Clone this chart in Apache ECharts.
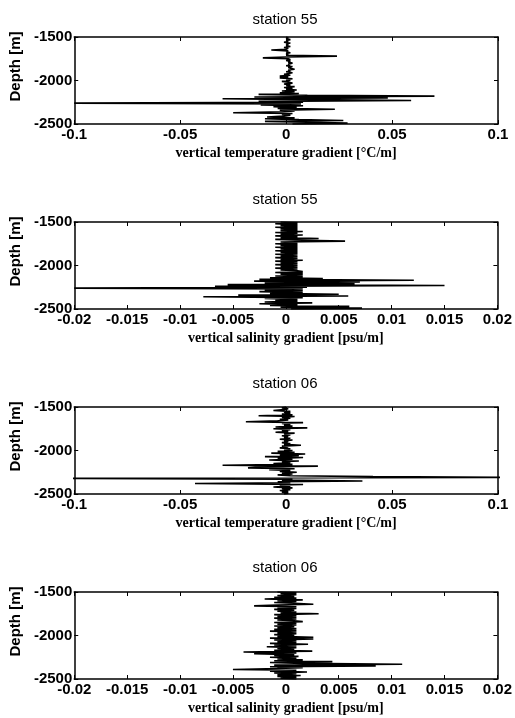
<!DOCTYPE html>
<html>
<head>
<meta charset="utf-8">
<script src="https://cdn.jsdelivr.net/npm/echarts@6/dist/echarts.min.js"></script>
<style>
html,body{margin:0;padding:0;background:#fff;}
#chart{width:515px;height:718px;}
</style>
</head>
<body>
<div id="chart"></div>
<script>
// Depth levels (m)
const depth = [
-1500,-1510,-1520,-1530,-1540,-1550,-1560,-1570,-1580,-1590,
-1600,-1610,-1620,-1630,-1640,-1650,-1660,-1670,-1680,-1690,
-1700,-1710,-1720,-1730,-1740,-1750,-1760,-1770,-1780,-1790,
-1800,-1810,-1820,-1830,-1840,-1850,-1860,-1870,-1880,-1890,
-1900,-1910,-1920,-1930,-1940,-1950,-1960,-1970,-1980,-1990,
-2000,-2010,-2020,-2030,-2040,-2050,-2060,-2070,-2080,-2090,
-2100,-2110,-2120,-2130,-2140,-2150,-2160,-2170,-2180,-2190,
-2200,-2210,-2220,-2230,-2240,-2250,-2260,-2270,-2280,-2290,
-2300,-2310,-2320,-2330,-2340,-2350,-2360,-2370,-2380,-2390,
-2400,-2410,-2420,-2430,-2440,-2450,-2460,-2470,-2480,-2490,
-2500];

// Station 55, vertical temperature gradient (°C/m)
const temp55 = [
0.000,0.001,0.000,0.002,0.000,0.001,-0.001,0.002,0.000,0.001,
0.000,0.002,-0.001,0.001,0.000,-0.007,0.001,0.000,0.002,0.000,
0.001,0.000,0.024,0.000,-0.011,0.001,0.002,0.000,0.002,0.001,
0.003,0.001,0.002,0.000,0.003,0.001,0.002,0.004,0.001,0.002,
0.000,0.003,0.001,-0.001,0.002,-0.003,0.001,-0.003,0.003,0.000,
0.002,-0.002,0.001,0.003,-0.001,0.002,0.000,0.004,-0.001,0.003,
0.000,0.005,-0.002,0.004,-0.003,0.006,-0.013,0.010,0.070,-0.015,
0.048,-0.030,0.012,0.059,-0.013,0.008,-0.100,0.007,-0.012,0.008,
-0.006,0.005,-0.004,0.023,-0.003,0.004,-0.002,-0.025,0.003,-0.002,
0.002,-0.001,-0.009,0.004,-0.010,0.006,0.027,-0.010,0.010,0.029,
0.003];

// Station 55, vertical salinity gradient (psu/m)
const sal55 = [
-0.0005,0.0011,-0.0010,0.0011,-0.0005,0.0011,-0.0010,0.0011,-0.0005,0.0011,
-0.0005,0.0016,-0.0010,0.0011,-0.0005,0.0016,-0.0010,0.0011,-0.0005,0.0031,
-0.0010,0.0016,0.0056,-0.0005,0.0011,-0.0010,0.0011,-0.0005,0.0011,-0.0010,
0.0011,-0.0005,0.0011,-0.0010,0.0011,-0.0005,0.0011,-0.0010,0.0011,-0.0005,
0.0011,-0.0010,0.0011,-0.0005,0.0016,-0.0010,0.0011,-0.0005,0.0011,-0.0010,
0.0011,-0.0005,0.0011,-0.0010,0.0011,-0.0005,0.0011,0.0016,-0.0010,0.0016,
-0.0005,0.0016,-0.0010,0.0016,-0.0015,0.0035,-0.0025,0.0121,-0.0030,0.0070,
-0.0020,0.0065,-0.0055,0.0150,-0.0067,0.0020,-0.0200,0.0016,-0.0020,0.0016,
-0.0025,0.0016,-0.0015,0.0050,-0.0045,0.0059,-0.0078,0.0016,-0.0020,0.0011,
-0.0010,0.0011,-0.0020,0.0025,-0.0025,0.0011,-0.0015,0.0060,-0.0005,0.0072,
0.0005];

// Station 06, vertical temperature gradient (°C/m)
const temp06 = [
0.000,-0.002,0.001,-0.001,-0.006,0.002,-0.001,0.002,-0.002,0.003,
-0.013,0.004,-0.002,0.002,-0.003,0.001,-0.004,-0.019,0.008,-0.002,
0.002,-0.001,0.003,-0.005,0.010,-0.006,0.002,-0.002,0.001,-0.005,
0.004,-0.001,0.002,-0.002,0.001,-0.001,0.002,-0.003,0.003,-0.001,
0.001,-0.002,0.002,-0.001,0.007,-0.002,0.001,-0.003,0.002,-0.001,
0.003,-0.004,0.004,-0.007,0.009,-0.003,0.006,-0.010,0.008,-0.004,
0.003,-0.008,0.006,-0.002,0.002,-0.006,0.003,-0.030,0.015,-0.013,
-0.018,0.004,-0.008,0.002,-0.003,0.005,-0.002,0.003,-0.004,0.002,
0.041,0.120,-0.120,0.003,-0.002,0.036,-0.004,0.002,-0.043,0.008,
-0.003,0.002,-0.006,0.003,-0.002,0.002,-0.003,0.001,-0.002,0.001,
-0.001];

// Station 06, vertical salinity gradient (psu/m)
const sal06 = [
-0.0008,0.0010,-0.0005,0.0010,-0.0008,0.0008,-0.0011,0.0010,-0.0020,0.0016,
-0.0008,0.0010,-0.0011,0.0008,0.0026,-0.0008,-0.0030,0.0010,-0.0008,0.0010,
-0.0011,0.0008,-0.0008,0.0010,-0.0005,0.0031,-0.0011,0.0010,-0.0008,0.0010,
-0.0011,0.0010,-0.0008,0.0008,0.0016,-0.0011,0.0010,-0.0008,0.0010,-0.0011,
0.0008,-0.0008,0.0010,-0.0011,0.0010,-0.0015,0.0010,-0.0008,0.0010,-0.0011,
0.0008,-0.0008,0.0026,-0.0015,0.0026,-0.0011,0.0010,-0.0008,0.0010,-0.0015,
0.0021,-0.0011,0.0010,-0.0018,0.0010,-0.0008,0.0008,-0.0011,0.0025,-0.0040,
0.0010,-0.0030,0.0008,-0.0011,0.0012,-0.0015,0.0010,-0.0008,0.0016,-0.0011,
0.0044,-0.0015,0.0016,0.0110,-0.0011,0.0085,-0.0015,0.0016,-0.0008,-0.0050,
0.0010,-0.0015,0.0020,-0.0011,0.0010,-0.0008,0.0014,-0.0008,0.0010,-0.0005,
0.0010];

const titles = ['station 55', 'station 55', 'station 06', 'station 06'];
const xNames = [
  'vertical temperature gradient [°C/m]',
  'vertical salinity gradient [psu/m]',
  'vertical temperature gradient [°C/m]',
  'vertical salinity gradient [psu/m]'
];
const xRanges = [[-0.1, 0.1, 0.05], [-0.02, 0.02, 0.005], [-0.1, 0.1, 0.05], [-0.02, 0.02, 0.005]];
const yRange = [-2500, -1500, 500];
const profiles = [temp55, sal55, temp06, sal06];

const gridTops = [37, 222, 407, 592];
const titleTops = [12, 192, 376, 560];
const GL = 72, GW = 426, GH = 87;

const tickFont = {fontFamily: 'Liberation Sans, Arial, sans-serif', fontSize: 15, fontWeight: 'bold', color: '#000'};
const lineStyle = {color: '#000', width: 1.5};
const plain = v => String(+v.toFixed(6));

const option = {
  backgroundColor: '#fff',
  animation: false,
  title: [], grid: [], xAxis: [], yAxis: [], series: []
};

for (let p = 0; p < 4; p++) {
  option.title.push({
    text: titles[p], left: GL + GW / 2, top: titleTops[p], textAlign: 'center', padding: 0,
    textStyle: {fontFamily: 'Liberation Sans, Arial, sans-serif', fontSize: 15, fontWeight: 'normal', color: '#000'}
  });
  option.grid.push({left: GL, top: gridTops[p], width: GW, height: GH, containLabel: false});
  const [xmin, xmax, xint] = xRanges[p];
  option.xAxis.push({
    type: 'value', gridIndex: p, min: xmin, max: xmax, interval: xint, position: 'bottom',
    name: xNames[p], nameLocation: 'middle', nameGap: 22,
    nameTextStyle: {fontFamily: 'Liberation Serif, Times New Roman, serif', fontSize: 14, fontWeight: 'bold', color: '#000'},
    axisLine: {show: true, onZero: false, lineStyle: lineStyle},
    axisTick: {show: true, inside: true, length: 4, lineStyle: {color: '#000', width: 1}},
    axisLabel: Object.assign({margin: 3, showMinLabel: true, showMaxLabel: true, formatter: plain}, tickFont),
    splitLine: {show: false}
  });
  option.xAxis.push({
    type: 'value', gridIndex: p, min: xmin, max: xmax, interval: xint, position: 'top',
    axisLine: {show: true, onZero: false, lineStyle: lineStyle},
    axisTick: {show: true, inside: true, length: 4, lineStyle: {color: '#000', width: 1}},
    axisLabel: {show: false}, splitLine: {show: false}
  });
  option.yAxis.push({
    type: 'value', gridIndex: p, min: yRange[0], max: yRange[1], interval: yRange[2], position: 'left',
    name: 'Depth [m]', nameLocation: 'middle', nameGap: 47, nameRotate: 90,
    nameTextStyle: {fontFamily: 'Liberation Sans, Arial, sans-serif', fontSize: 15, fontWeight: 'bold', color: '#000', padding: [0, 0, 0, 28]},
    axisLine: {show: true, onZero: false, lineStyle: lineStyle},
    axisTick: {show: true, inside: true, length: 4, lineStyle: {color: '#000', width: 1}},
    axisLabel: Object.assign({margin: 2, formatter: plain}, tickFont),
    splitLine: {show: false}
  });
  option.yAxis.push({
    type: 'value', gridIndex: p, min: yRange[0], max: yRange[1], interval: yRange[2], position: 'right',
    axisLine: {show: true, onZero: false, lineStyle: lineStyle},
    axisTick: {show: true, inside: true, length: 4, lineStyle: {color: '#000', width: 1}},
    axisLabel: {show: false}, splitLine: {show: false}
  });
  const prof = profiles[p];
  option.series.push({
    type: 'line', xAxisIndex: 2 * p, yAxisIndex: 2 * p, clip: true,
    showSymbol: false, symbol: 'none',
    lineStyle: {color: '#000', width: 1.6},
    data: depth.map((d, i) => [prof[i], d])
  });
}

const chart = echarts.init(document.getElementById('chart'), null, {renderer: 'canvas'});
chart.setOption(option);
</script>
</body>
</html>
